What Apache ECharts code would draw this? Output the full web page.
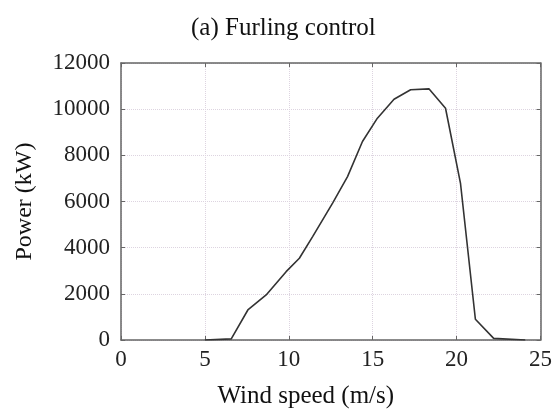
<!DOCTYPE html>
<html>
<head>
<meta charset="utf-8">
<script src="https://cdn.jsdelivr.net/npm/echarts@6/dist/echarts.min.js"></script>
<style>html,body{margin:0;padding:0;background:#fff;}#c{width:555px;height:414px;}</style>
</head>
<body>
<div id="c"></div>
<script>
var windSpeed = [5.0, 6.57, 7.56, 8.65, 9.84, 10.63, 11.42, 12.61, 13.5, 14.39, 15.28, 16.27, 17.26, 18.35, 19.34, 20.23, 21.12, 22.21, 24.09];
var power = [0, 50, 1300, 1950, 2960, 3540, 4480, 5930, 7080, 8600, 9610, 10430, 10840, 10880, 10040, 6800, 900, 70, 0];
var xTicks = [0, 5, 10, 15, 20, 25];
var yTicks = [0, 2000, 4000, 6000, 8000, 10000, 12000];

var font = 'Liberation Serif';
var frame = '#666';
var data = windSpeed.map(function (x, i) { return [x, power[i]]; });

var chart = echarts.init(document.getElementById('c'));
chart.setOption({
  backgroundColor: '#fff',
  animation: false,
  title: {
    text: '(a) Furling control',
    left: 186, top: 11,
    textStyle: { fontFamily: font, fontSize: 25, fontWeight: 'normal', color: '#111' }
  },
  grid: { left: 121, right: 13, top: 63, bottom: 74 },
  xAxis: [{
    type: 'value', min: xTicks[0], max: xTicks[xTicks.length - 1], interval: 5,
    name: 'Wind speed (m/s)', nameLocation: 'middle', nameGap: 44,
    nameTextStyle: { fontFamily: font, fontSize: 25, color: '#111', padding: [0, 50, 0, 0] },
    axisLine: { show: true, onZero: false, lineStyle: { color: frame, width: 1.5 } },
    axisTick: { show: true, inside: true, length: 4, lineStyle: { color: frame } },
    axisLabel: { fontFamily: font, fontSize: 23, color: '#222', margin: 8 },
    splitLine: { show: true, lineStyle: { color: '#ddd4e0', type: 'dotted', width: 1 } }
  }, {
    type: 'value', position: 'top', min: 0, max: 25, interval: 5,
    axisLine: { show: true, onZero: false, lineStyle: { color: frame, width: 1.5 } },
    axisTick: { show: true, inside: true, length: 4, lineStyle: { color: frame } },
    axisLabel: { show: false }, splitLine: { show: false }
  }],
  yAxis: [{
    type: 'value', min: yTicks[0], max: yTicks[yTicks.length - 1], interval: 2000,
    name: 'Power (kW)', nameLocation: 'middle', nameGap: 84,
    nameTextStyle: { fontFamily: font, fontSize: 24, color: '#111' },
    axisLine: { show: true, onZero: false, lineStyle: { color: frame, width: 1.5 } },
    axisTick: { show: true, inside: true, length: 4, lineStyle: { color: frame } },
    axisLabel: { fontFamily: font, fontSize: 23, color: '#222', margin: 11, formatter: function (v) { return String(v); } },
    splitLine: { show: true, lineStyle: { color: '#ddd4e0', type: 'dotted', width: 1 } }
  }, {
    type: 'value', position: 'right', min: 0, max: 12000, interval: 2000,
    axisLine: { show: true, onZero: false, lineStyle: { color: frame, width: 1.5 } },
    axisTick: { show: true, inside: true, length: 4, lineStyle: { color: frame } },
    axisLabel: { show: false }, splitLine: { show: false }
  }],
  series: [{
    type: 'line', data: data, showSymbol: false, symbol: 'none',
    xAxisIndex: 0, yAxisIndex: 0,
    lineStyle: { color: '#333', width: 1.6 }
  }]
});
</script>
</body>
</html>
